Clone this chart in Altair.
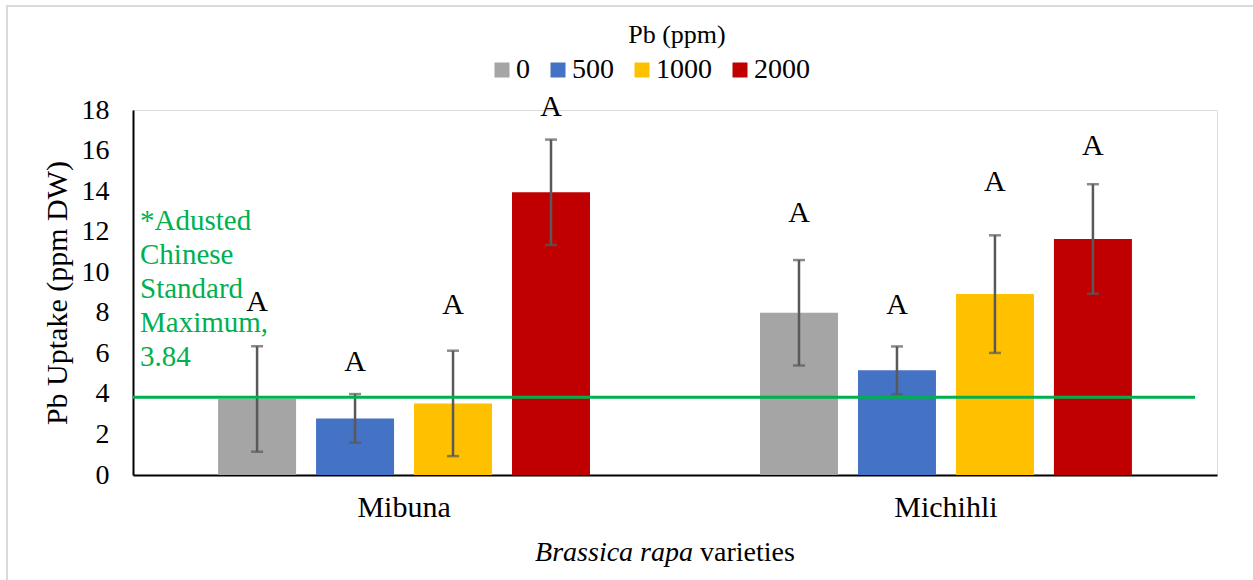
import altair as alt
import pandas as pd

varieties = ["Mibuna"] * 4 + ["Michihli"] * 4
pb_levels = ["0", "500", "1000", "2000"]
pb = pb_levels * 2
means = [3.75, 2.79, 3.53, 13.94, 8.00, 5.16, 8.92, 11.64]
se = [2.60, 1.20, 2.60, 2.60, 2.60, 1.18, 2.90, 2.70]
letters = ["A"] * 8
letter_y = [8.53, 5.57, 8.38, 18.15, 12.92, 8.38, 14.45, 16.22]
colors = ["#a5a5a5", "#4472c4", "#ffc000", "#c00000"]
standard = 3.84
note = "*Adusted\nChinese\nStandard\nMaximum,\n3.84"

FONT = "Liberation Serif"
GREEN = "#00b050"

df = pd.DataFrame({
    "variety": varieties,
    "pb": pb,
    "mean": means,
    "lo": [m - s for m, s in zip(means, se)],
    "hi": [m + s for m, s in zip(means, se)],
    "letter": letters,
    "ly": letter_y,
})

x = alt.X("variety:N", sort=["Mibuna", "Michihli"],
          scale=alt.Scale(paddingInner=0.3137, paddingOuter=0.157),
          axis=alt.Axis(title=None, labelAngle=0, ticks=False, labelPadding=17,
                        domainColor="black", domainWidth=2,
                        labelFontSize=30, labelFont=FONT, labelColor="black"))
xo = alt.XOffset("pb:N", sort=pb_levels,
                 scale=alt.Scale(paddingInner=0.204, paddingOuter=0))
yscale = alt.Scale(domain=[0, 18], nice=False)

base = alt.Chart(df)

bars = base.mark_bar().encode(
    x=x, xOffset=xo,
    y=alt.Y("mean:Q", scale=yscale,
            axis=alt.Axis(title="Pb Uptake (ppm DW)", values=list(range(0, 19, 2)),
                          grid=False, ticks=False, labelPadding=24,
                          domainColor="black", domainWidth=2,
                          labelFontSize=28, labelFont=FONT, labelColor="black",
                          titleFontSize=30, titleFont=FONT, titleFontWeight="normal",
                          titleColor="black", titlePadding=9)),
    color=alt.Color("pb:N", sort=pb_levels,
                    scale=alt.Scale(domain=pb_levels, range=colors),
                    legend=alt.Legend(title=None, orient="none", direction="horizontal",
                                      legendX=355, legendY=-54,
                                      symbolType="square", symbolSize=225,
                                      symbolStrokeWidth=0, symbolOpacity=1,
                                      labelFontSize=28, labelFont=FONT,
                                      labelColor="black", labelOffset=0,
                                      columnPadding=14)),
)

err = base.mark_rule(color="#595959", strokeWidth=2.5).encode(
    x=x, xOffset=xo, y=alt.Y("lo:Q", scale=yscale), y2="hi:Q")
cap_lo = base.mark_tick(color="#595959", thickness=2.5, size=12, orient="horizontal").encode(
    x=x, xOffset=xo, y=alt.Y("lo:Q", scale=yscale))
cap_hi = base.mark_tick(color="#595959", thickness=2.5, size=12, orient="horizontal").encode(
    x=x, xOffset=xo, y=alt.Y("hi:Q", scale=yscale))

labels = base.mark_text(font=FONT, fontSize=30, color="black", baseline="middle").encode(
    x=x, xOffset=xo, y=alt.Y("ly:Q", scale=yscale), text="letter:N")

std_df = pd.DataFrame({"v": [standard], "note": [note], "ny": [12.1]})
std_rule = alt.Chart(std_df).mark_rule(color=GREEN, strokeWidth=3).encode(
    y=alt.Y("v:Q", scale=yscale), x=alt.value(0), x2=alt.value(1062))
std_text = alt.Chart(std_df).mark_text(
    font=FONT, fontSize=29, color=GREEN, align="left", baseline="alphabetic",
    lineBreak="\n", lineHeight=34).encode(
    x=alt.value(7), y=alt.Y("ny:Q", scale=yscale), text="note:N")

legend_title = alt.Chart(std_df).mark_text(
    font=FONT, fontSize=26, color="black", align="center", baseline="alphabetic",
    text="Pb (ppm)").encode(x=alt.value(544), y=alt.value(-67))

xt1 = alt.Chart(std_df).mark_text(
    font=FONT, fontSize=28, fontStyle="italic", color="black", align="right",
    baseline="alphabetic", text="Brassica rapa").encode(x=alt.value(560), y=alt.value(86 + 365))
xt2 = alt.Chart(std_df).mark_text(
    font=FONT, fontSize=28, color="black", align="left",
    baseline="alphabetic", text="varieties").encode(x=alt.value(567), y=alt.value(86 + 365))

border = alt.Chart(std_df).mark_rect(fill="white", fillOpacity=0, stroke="#d9d9d9",
                                     strokeWidth=2).encode(
    x=alt.value(-126), x2=alt.value(1140), y=alt.value(-104), y2=alt.value(490))

chart = alt.layer(border, bars, err, cap_lo, cap_hi, std_rule, labels, std_text,
                  legend_title, xt1, xt2).properties(
    width=1084, height=365,
    autosize=alt.AutoSizeParams(type="none"),
    padding={"left": 133, "top": 110, "right": 36, "bottom": 105},
).configure_view(stroke=None).configure(background="white", font=FONT)

chart.save("out.html", embed_options={"renderer": "svg", "actions": False})
